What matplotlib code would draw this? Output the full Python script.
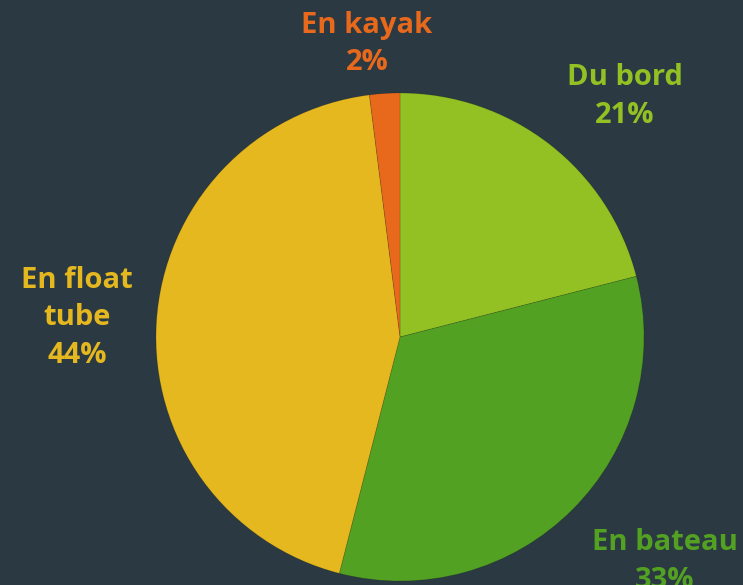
import matplotlib
matplotlib.use("Agg")
import matplotlib.pyplot as plt

categories = ["Du bord", "En bateau", "En float\ntube", "En kayak"]
values = [21, 33, 44, 2]
colors = ["#93C123", "#53A122", "#E6B81F", "#E8691B"]
# label anchor positions (data units, pie radius = 1)
label_pos = [(0.922, 0.985), (1.086, -0.92), (-1.324, 0.078), (-0.135, 1.20)]

bg = "#2B3A42"
W, H, dpi = 743, 585, 100
fig = plt.figure(figsize=(W / dpi, H / dpi), dpi=dpi, facecolor=bg)
ax = fig.add_axes([0, 0, 1, 1])
ax.set_facecolor(bg)

cx, cy, r = 400, 337, 244
ax.pie(values, colors=colors, startangle=90, counterclock=False,
       radius=1, wedgeprops=dict(linewidth=0.6, edgecolor=(0, 0, 0, 0.15)))
ax.set_xlim(-cx / r, (W - cx) / r)
ax.set_ylim(-(H - cy) / r, cy / r)
ax.set_aspect("auto")

for cat, v, col, (x, y) in zip(categories, values, colors, label_pos):
    ax.text(x, y, f"{cat}\n{v}%", color=col, ha="center", va="center",
            fontsize=21, fontweight="bold", family=["Open Sans", "DejaVu Sans"],
            linespacing=1.38, clip_on=False)

ax.axis("off")
fig.savefig("out.png", dpi=dpi, facecolor=bg)
